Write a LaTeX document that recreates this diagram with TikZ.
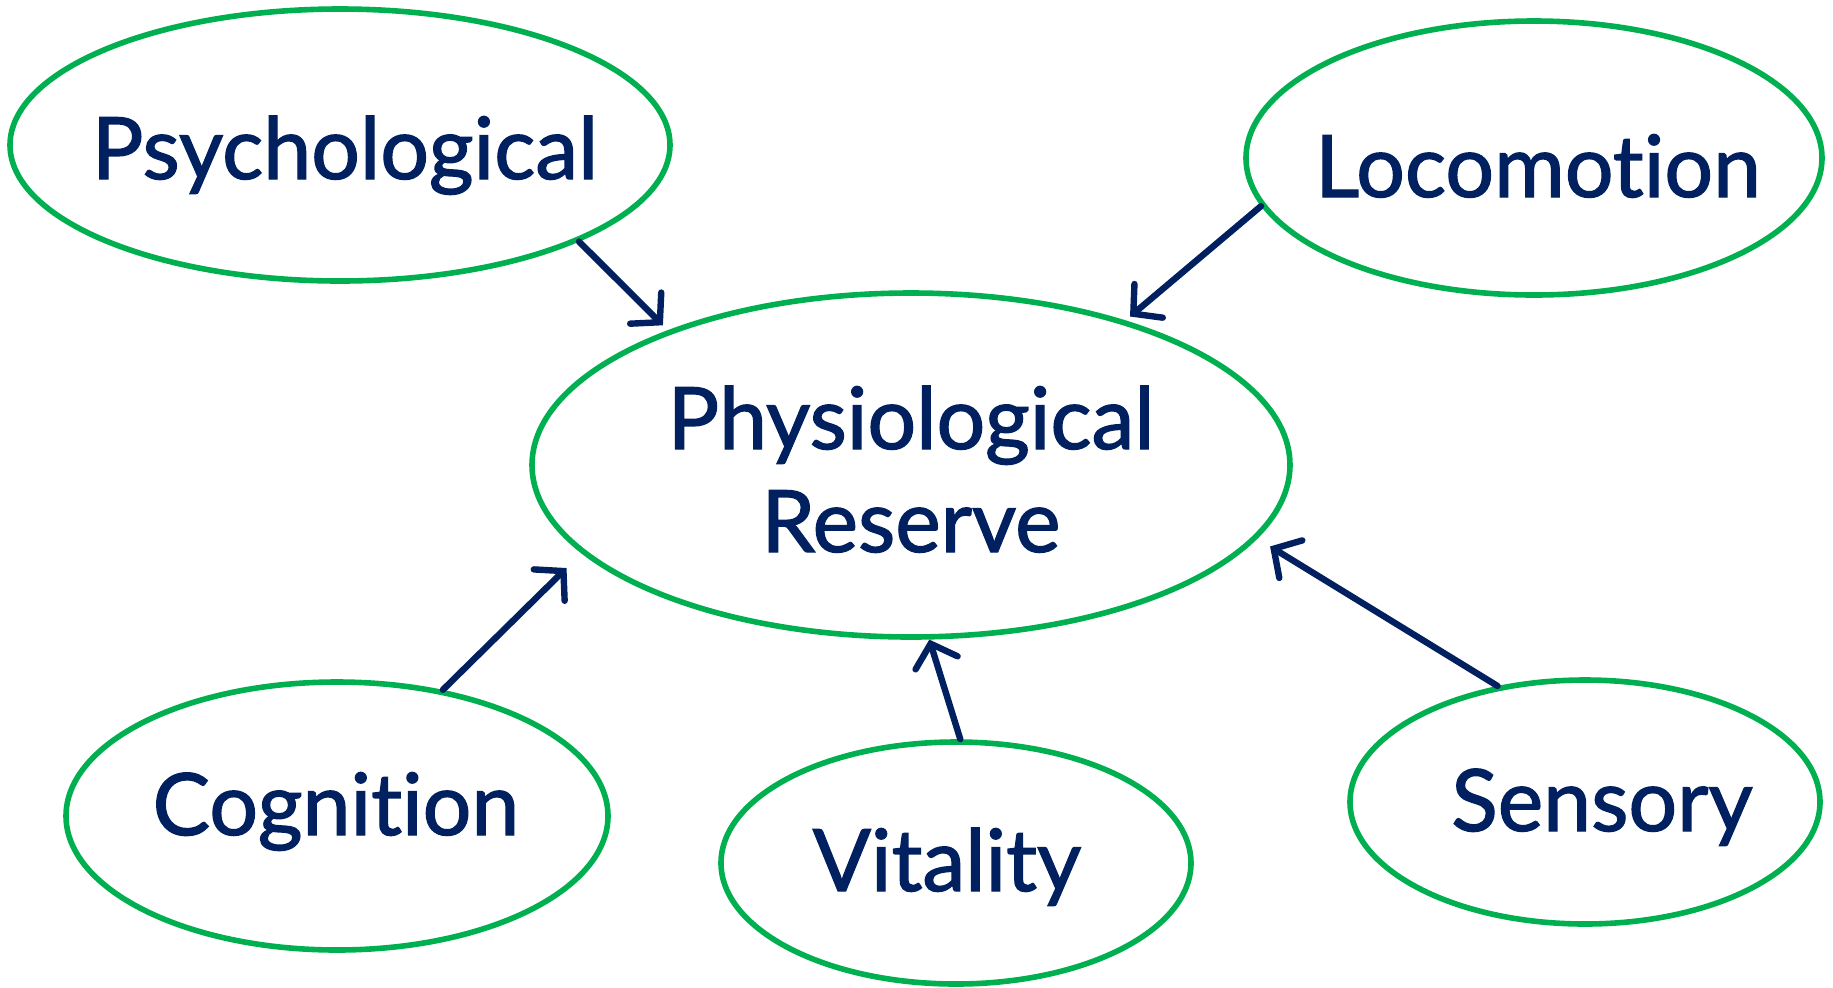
\documentclass[tikz,border=0pt]{standalone}
\usepackage{fontspec}
\setmainfont{Lato}[Ligatures=NoCommon, FakeBold=1.5]
\usetikzlibrary{arrows.meta,shapes.geometric}
\definecolor{ringgreen}{HTML}{00B050}
\definecolor{navy}{HTML}{002060}
\tikzset{
  ring/.style={ellipse, draw=ringgreen, line width=2.8pt, inner sep=0pt},
  lbl/.style={anchor=base, text=navy, inner sep=0pt, align=center,
    font=\fontsize{43pt}{51.5pt}\selectfont},
  arr/.style={draw=navy, line width=3.2pt, line cap=round,
    -{Straight Barb[length=10pt, width=22pt, line cap=round]}}
}
\begin{document}
\begin{tikzpicture}[x=0.5pt, y=-0.5pt]
\useasboundingbox (0,0) rectangle (1833,987);
\fill[white] (0,0) rectangle (1833,987);
% ellipses
\node[ring, minimum width=330pt, minimum height=136pt] (psych) at (340,145) {};
\node[ring, minimum width=288pt, minimum height=137pt] (loco) at (1534,158) {};
\node[ring, minimum width=379pt, minimum height=172pt] (phys) at (911,465) {};
\node[ring, minimum width=271pt, minimum height=134pt] (cog) at (337,816) {};
\node[ring, minimum width=235pt, minimum height=121pt] (vit) at (956,863) {};
\node[ring, minimum width=235pt, minimum height=122pt] (sens) at (1585,802) {};
% labels
\node[lbl] (psychT) at (345,179) {Psychological};
\node[lbl] (locoT) at (1538,197) {Locomotion};
\node[lbl] (physT) at (911,552) {Physiological\\Reserve};
\node[lbl] (cogT) at (336,835) {Cognition};
\node[lbl] (vitT) at (947,891) {Vitality};
\node[lbl] (sensT) at (1602,831) {Sensory};
% arrows
\draw[arr, shorten >=3.5pt] (psych.-22.4) -- (phys.151.6);
\draw[arr, shorten >=3pt] (loco.190.5) -- (phys.34.3);
\draw[arr, shorten >=10.5pt] (cog.50.4) -- (phys.195.5);
\draw[arr] (vit.88) -- (phys.-84);
\draw[arr, shorten >=7.5pt] (sens.127.5) -- (phys.-12.4);
\end{tikzpicture}
\end{document}
